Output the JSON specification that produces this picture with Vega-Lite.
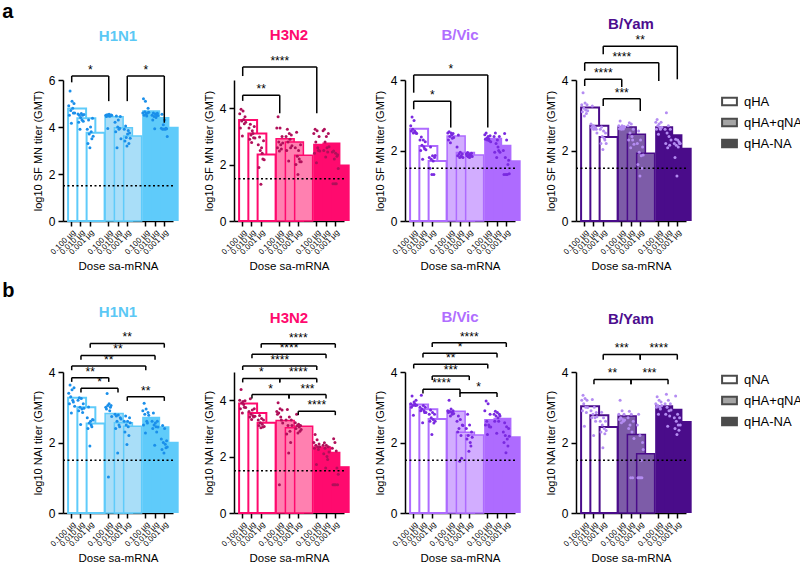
{
"padding":{"left":2,"top":2,"right":5,"bottom":0},
"config":{"font":"Liberation Sans","view":{"stroke":null},
"axis":{"grid":false,"domainColor":"black","domainWidth":1.5,"tickColor":"black","tickWidth":1.5,"labelColor":"black","titleColor":"black","labelFont":"Liberation Sans","titleFont":"Liberation Sans","titleFontWeight":"normal"},
"axisY":{"labelFontSize":12,"titleFontSize":11,"titlePadding":5,"tickSize":5,"labelPadding":3},
"axisX":{"labelFontSize":8,"labelAngle":-45,"titleFontSize":11.5,"titlePadding":5,"tickSize":5,"labelPadding":2},
"title":{"font":"Liberation Sans","fontSize":15,"fontWeight":"bold","anchor":"middle","frame":"group","offset":6}},
"datasets":{
"bars":[
{"p":"a1","g":"g1","bar":"g1d1","m":4.79,"v":[4.9,4.5,5.53,4.7,4.16,5.1,4.8,4.6,5.0,4.6]},
{"p":"a1","g":"g1","bar":"g1d2","m":4.37,"v":[4.55,4.2,4.5,3.9,4.4,4.57,4.3,4.5,4.25,4.53]},
{"p":"a1","g":"g1","bar":"g1d3","m":3.76,"v":[3.9,3.3,4.3,3.7,3.12,4.0,3.8,3.5,4.37,3.61]},
{"p":"a1","g":"g2","bar":"g2d1","m":4.44,"v":[4.5,4.45,4.52,3.94,4.48,4.54,4.46,4.5,4.51,4.5]},
{"p":"a1","g":"g2","bar":"g2d2","m":3.97,"v":[4.2,3.8,4.47,3.12,4.0,4.3,3.9,3.95,4.45,3.5]},
{"p":"a1","g":"g2","bar":"g2d3","m":3.62,"v":[3.9,3.4,4.04,3.55,3.19,3.7,3.85,3.3,3.75,3.52]},
{"p":"a1","g":"g3","bar":"g3d1","m":4.71,"v":[4.6,5.2,4.5,4.65,5.1,4.55,4.47,4.6,4.8,4.63]},
{"p":"a1","g":"g3","bar":"g3d2","m":4.43,"v":[4.5,4.3,4.6,4.45,3.93,4.55,4.4,4.5,4.58,4.49]},
{"p":"a1","g":"g3","bar":"g3d3","m":4.01,"v":[3.95,4.54,3.9,4.1,3.92,4.3,3.9,3.95,3.93,3.6]},
{"p":"a2","g":"g1","bar":"g1d1","m":3.58,"v":[3.8,3.3,3.96,3.55,3.01,3.9,3.6,3.45,3.7,3.5]},
{"p":"a2","g":"g1","bar":"g1d2","m":3.1,"v":[3.3,2.9,3.43,3.05,2.78,3.2,3.1,2.95,3.35,2.94]},
{"p":"a2","g":"g1","bar":"g1d3","m":2.36,"v":[2.7,1.9,2.98,2.5,1.3,2.6,2.4,2.2,2.85,2.17]},
{"p":"a2","g":"g2","bar":"g2d1","m":2.92,"v":[3.3,2.6,3.7,2.8,2.48,3.3,2.7,2.55,3.0,2.77]},
{"p":"a2","g":"g2","bar":"g2d2","m":2.8,"v":[3.0,2.5,3.25,2.8,2.13,3.1,2.9,2.6,3.05,2.67]},
{"p":"a2","g":"g2","bar":"g2d3","m":2.33,"v":[2.6,2.0,3.15,2.3,1.65,2.5,2.2,2.1,2.7,2.1]},
{"p":"a2","g":"g3","bar":"g3d1","m":2.74,"v":[3.1,2.4,3.25,2.8,2.07,3.2,2.6,2.5,3.0,2.48]},
{"p":"a2","g":"g3","bar":"g3d2","m":2.78,"v":[3.2,2.5,3.25,2.8,2.27,3.0,2.6,2.45,3.1,2.63]},
{"p":"a2","g":"g3","bar":"g3d3","m":2.0,"v":[2.45,1.32,2.48,2.2,1.32,2.4,1.32,2.3,2.35,1.86]},
{"p":"a3","g":"g1","bar":"g1d1","m":2.62,"v":[2.7,2.55,2.95,2.6,2.5,2.85,2.55,2.52,2.5,2.48]},
{"p":"a3","g":"g1","bar":"g1d2","m":2.13,"v":[2.3,2.0,2.38,2.15,1.75,2.3,2.1,2.05,2.25,2.02]},
{"p":"a3","g":"g1","bar":"g1d3","m":1.7,"v":[1.8,1.5,2.1,1.75,1.32,1.85,1.7,1.32,1.8,1.86]},
{"p":"a3","g":"g2","bar":"g2d1","m":2.41,"v":[2.5,2.3,2.53,2.4,2.22,2.5,2.45,2.35,2.48,2.37]},
{"p":"a3","g":"g2","bar":"g2d2","m":1.94,"v":[2.1,1.85,2.44,1.9,1.8,1.95,1.85,1.82,1.9,1.8]},
{"p":"a3","g":"g2","bar":"g2d3","m":1.87,"v":[1.9,1.85,1.94,1.82,1.88,1.8,1.9,1.86,1.92,1.83]},
{"p":"a3","g":"g3","bar":"g3d1","m":2.36,"v":[2.45,2.32,2.5,2.35,2.3,2.4,2.33,2.28,2.42,2.25]},
{"p":"a3","g":"g3","bar":"g3d2","m":2.16,"v":[2.4,1.95,2.5,2.2,1.8,2.3,2.1,2.0,2.4,1.95]},
{"p":"a3","g":"g3","bar":"g3d3","m":1.72,"v":[2.0,1.32,2.48,1.8,1.32,2.3,1.32,1.6,1.72,1.34]},
{"p":"a4","g":"g1","bar":"g1d1","m":3.22,"v":[3.3,3.1,3.64,3.2,2.98,3.35,3.15,3.05,3.3,3.13]},
{"p":"a4","g":"g1","bar":"g1d2","m":2.7,"v":[2.75,2.65,3.26,2.7,2.6,2.68,2.62,2.64,2.6,2.5]},
{"p":"a4","g":"g1","bar":"g1d3","m":2.38,"v":[2.6,2.2,2.67,2.4,2.03,2.55,2.35,2.3,2.5,2.2]},
{"p":"a4","g":"g2","bar":"g2d1","m":2.67,"v":[2.7,2.62,2.84,2.65,2.6,2.7,2.63,2.61,2.68,2.67]},
{"p":"a4","g":"g2","bar":"g2d2","m":2.46,"v":[2.7,2.3,2.79,2.5,2.08,2.75,2.4,2.3,2.6,2.18]},
{"p":"a4","g":"g2","bar":"g2d3","m":1.92,"v":[2.2,1.6,2.55,1.95,1.28,2.3,1.85,1.5,2.1,1.87]},
{"p":"a4","g":"g3","bar":"g3d1","m":2.69,"v":[2.8,2.6,2.88,2.7,2.46,2.75,2.65,2.6,2.8,2.66]},
{"p":"a4","g":"g3","bar":"g3d2","m":2.46,"v":[2.6,2.2,3.07,2.5,2.08,2.7,2.4,2.15,2.6,2.3]},
{"p":"a4","g":"g3","bar":"g3d3","m":2.08,"v":[2.2,1.8,2.32,2.15,1.28,2.3,2.1,2.25,2.2,2.2]},
{"p":"b1","g":"g1","bar":"g1d1","m":3.27,"v":[3.4,3.1,3.63,3.3,2.84,3.5,3.2,3.15,3.55,3.03]},
{"p":"b1","g":"g1","bar":"g1d2","m":3.0,"v":[3.2,2.9,3.27,3.0,2.51,3.25,2.95,2.85,3.1,2.97]},
{"p":"b1","g":"g1","bar":"g1d3","m":2.54,"v":[2.7,2.4,3.01,2.55,1.9,2.6,2.5,2.45,2.65,2.64]},
{"p":"b1","g":"g2","bar":"g2d1","m":2.82,"v":[3.0,2.95,3.39,3.05,1.02,3.1,2.9,3.0,3.05,2.74]},
{"p":"b1","g":"g2","bar":"g2d2","m":2.56,"v":[2.8,2.4,2.75,2.6,1.7,2.78,2.5,2.45,2.7,2.67]},
{"p":"b1","g":"g2","bar":"g2d3","m":2.46,"v":[2.6,2.3,2.75,2.5,1.94,2.6,2.45,2.2,2.7,2.56]},
{"p":"b1","g":"g3","bar":"g3d1","m":2.73,"v":[2.9,2.5,3.11,2.8,2.27,2.95,2.6,2.55,2.85,2.77]},
{"p":"b1","g":"g3","bar":"g3d2","m":2.46,"v":[2.6,2.4,2.84,2.5,1.92,2.55,2.45,2.3,2.6,2.44]},
{"p":"b1","g":"g3","bar":"g3d3","m":2.02,"v":[2.1,1.8,2.48,2.0,1.7,2.4,1.95,1.85,2.05,1.87]},
{"p":"b2","g":"g1","bar":"g1d1","m":3.88,"v":[4.0,3.7,4.38,3.9,3.55,3.95,3.85,3.75,3.98,3.74]},
{"p":"b2","g":"g1","bar":"g1d2","m":3.55,"v":[3.6,3.4,4.05,3.5,3.32,3.65,3.45,3.4,3.7,3.43]},
{"p":"b2","g":"g1","bar":"g1d3","m":3.2,"v":[3.3,3.1,3.46,3.2,3.02,3.35,3.15,3.05,3.3,3.07]},
{"p":"b2","g":"g2","bar":"g2d1","m":3.28,"v":[3.6,3.5,3.91,3.55,1.0,3.7,3.4,3.3,3.65,3.19]},
{"p":"b2","g":"g2","bar":"g2d2","m":3.02,"v":[3.3,2.8,3.67,3.1,2.13,3.4,2.9,2.5,3.3,3.1]},
{"p":"b2","g":"g2","bar":"g2d3","m":3.08,"v":[3.2,3.0,3.5,3.1,2.84,3.15,3.05,2.9,3.1,2.96]},
{"p":"b2","g":"g3","bar":"g3d1","m":2.37,"v":[2.5,2.3,2.78,2.4,1.72,2.6,2.35,2.25,2.45,2.35]},
{"p":"b2","g":"g3","bar":"g3d2","m":2.17,"v":[2.4,2.1,2.49,2.3,1.6,2.4,2.0,1.9,2.35,2.16]},
{"p":"b2","g":"g3","bar":"g3d3","m":1.66,"v":[2.3,1.0,2.63,1.0,2.5,1.0,2.2,1.6,1.0,1.37]},
{"p":"b3","g":"g1","bar":"g1d1","m":3.08,"v":[3.1,3.0,3.32,3.05,2.77,3.15,3.1,3.05,3.2,3.06]},
{"p":"b3","g":"g1","bar":"g1d2","m":2.94,"v":[3.0,2.9,3.34,2.95,2.56,3.05,2.9,2.85,3.0,2.85]},
{"p":"b3","g":"g1","bar":"g1d3","m":2.67,"v":[2.8,2.6,2.92,2.7,2.23,2.85,2.65,2.55,2.8,2.6]},
{"p":"b3","g":"g2","bar":"g2d1","m":2.89,"v":[2.9,2.85,3.2,2.88,2.75,2.95,2.85,2.8,2.9,2.82]},
{"p":"b3","g":"g2","bar":"g2d2","m":2.29,"v":[2.6,2.3,2.75,2.4,1.47,2.65,2.2,1.55,2.5,2.48]},
{"p":"b3","g":"g2","bar":"g2d3","m":2.21,"v":[2.4,2.1,2.8,2.2,1.75,2.5,2.0,1.9,2.3,2.15]},
{"p":"b3","g":"g3","bar":"g3d1","m":2.67,"v":[2.9,2.5,3.18,2.6,2.23,3.1,2.5,2.45,2.8,2.44]},
{"p":"b3","g":"g3","bar":"g3d2","m":2.7,"v":[2.8,2.6,2.89,2.75,2.26,2.85,2.7,2.6,2.8,2.75]},
{"p":"b3","g":"g3","bar":"g3d3","m":2.18,"v":[2.3,2.0,2.56,2.2,1.71,2.45,2.1,1.9,2.4,2.18]},
{"p":"b4","g":"g1","bar":"g1d1","m":3.03,"v":[3.2,2.9,3.34,3.1,2.46,3.25,3.0,2.85,3.2,2.99]},
{"p":"b4","g":"g1","bar":"g1d2","m":2.77,"v":[2.9,2.7,3.22,2.8,2.2,3.0,2.7,2.6,2.85,2.73]},
{"p":"b4","g":"g1","bar":"g1d3","m":2.44,"v":[2.6,2.3,2.86,2.5,1.85,2.7,2.4,2.25,2.6,2.34]},
{"p":"b4","g":"g2","bar":"g2d1","m":2.75,"v":[2.8,2.65,3.2,2.7,2.56,2.9,2.65,2.6,2.8,2.64]},
{"p":"b4","g":"g2","bar":"g2d2","m":2.23,"v":[2.7,2.4,2.89,2.5,1.0,2.8,2.3,1.0,2.6,2.11]},
{"p":"b4","g":"g2","bar":"g2d3","m":1.68,"v":[2.5,1.0,2.8,1.0,2.2,1.0,1.5,1.0,2.0,1.8]},
{"p":"b4","g":"g3","bar":"g3d1","m":3.06,"v":[3.1,3.0,3.3,3.05,2.8,3.2,3.0,2.95,3.15,3.05]},
{"p":"b4","g":"g3","bar":"g3d2","m":2.96,"v":[3.1,2.8,3.37,3.0,2.46,3.2,2.9,2.75,3.1,2.92]},
{"p":"b4","g":"g3","bar":"g3d3","m":2.61,"v":[2.7,2.4,3.32,2.6,2.23,2.8,2.5,2.35,2.7,2.5]}
],
"br":[
{"p":"a1","bar":"g1d1","b":"g2d1","mid":"g1d3","y":6.17,"ya":5.9,"yb":5.1,"s":"*"},
{"p":"a1","bar":"g2d3","b":"g3d3","mid":"g3d1","y":6.17,"ya":5.1,"yb":4.18,"s":"*"},
{"p":"a2","bar":"g1d1","b":"g2d1","mid":"g1d3","y":4.46,"ya":4.26,"yb":3.82,"s":"**"},
{"p":"a2","bar":"g1d1","b":"g3d1","mid":"g2d1","y":5.46,"ya":5.14,"yb":3.82,"s":"****"},
{"p":"a3","bar":"g1d1","b":"g2d1","mid":"g1d3","y":3.4,"ya":3.17,"yb":2.65,"s":"*"},
{"p":"a3","bar":"g1d1","b":"g3d1","mid":"g2d1","y":4.14,"ya":3.64,"yb":2.65,"s":"*"},
{"p":"a4","bar":"g1d1","b":"g2d1","mid":"g1d3","y":4.02,"ya":3.83,"yb":3.8,"s":"****"},
{"p":"a4","bar":"g1d3","b":"g2d3","mid":"g2d1","y":3.47,"ya":3.26,"yb":3.12,"s":"***"},
{"p":"a4","bar":"g1d1","b":"g3d1","mid":"g2d1","y":4.49,"ya":4.26,"yb":3.97,"s":"****"},
{"p":"a4","bar":"g1d3","b":"g3d3","mid":"g2d3","y":4.96,"ya":4.73,"yb":4.02,"s":"**"},
{"p":"b1","bar":"g1d3","b":"g3d3","mid":"g2d3","y":4.81,"ya":4.69,"yb":4.69,"s":"**"},
{"p":"b1","bar":"g1d2","b":"g3d2","mid":"g2d2","y":4.47,"ya":4.35,"yb":4.35,"s":"**"},
{"p":"b1","bar":"g1d1","b":"g3d1","mid":"g2d1","y":4.17,"ya":4.05,"yb":4.05,"s":"**"},
{"p":"b1","bar":"g1d1","b":"g2d1","mid":"g1d3","y":3.84,"ya":3.72,"yb":3.72,"s":"**"},
{"p":"b1","bar":"g1d2","b":"g2d2","mid":"s1","y":3.54,"ya":3.42,"yb":3.42,"s":"*"},
{"p":"b1","bar":"g2d3","b":"g3d3","mid":"g3d1","y":3.3,"ya":3.18,"yb":3.18,"s":"**"},
{"p":"b2","bar":"g1d3","b":"g3d3","mid":"g2d3","y":6.0,"ya":5.86,"yb":5.86,"s":"****"},
{"p":"b2","bar":"g1d2","b":"g3d2","mid":"g2d2","y":5.63,"ya":5.49,"yb":5.49,"s":"****"},
{"p":"b2","bar":"g1d1","b":"g3d1","mid":"g2d1","y":5.21,"ya":5.07,"yb":5.07,"s":"****"},
{"p":"b2","bar":"g1d1","b":"g2d1","mid":"g1d3","y":4.77,"ya":4.63,"yb":4.63,"s":"*"},
{"p":"b2","bar":"g2d1","b":"g3d1","mid":"g2d3","y":4.77,"ya":4.63,"yb":4.63,"s":"****"},
{"p":"b2","bar":"g1d2","b":"g2d2","mid":"s1","y":4.2,"ya":4.06,"yb":4.06,"s":"*"},
{"p":"b2","bar":"g2d2","b":"g3d2","mid":"s2","y":4.2,"ya":4.06,"yb":4.06,"s":"***"},
{"p":"b2","bar":"g2d3","b":"g3d3","mid":"g3d1","y":3.61,"ya":3.47,"yb":3.47,"s":"****"},
{"p":"b3","bar":"g1d3","b":"g3d3","mid":"g2d3","y":4.83,"ya":4.71,"yb":4.71,"s":"****"},
{"p":"b3","bar":"g1d2","b":"g3d2","mid":"g2d2","y":4.53,"ya":4.41,"yb":4.41,"s":"*"},
{"p":"b3","bar":"g1d1","b":"g3d1","mid":"g2d1","y":4.22,"ya":4.1,"yb":4.1,"s":"**"},
{"p":"b3","bar":"g1d3","b":"g2d3","mid":"g2d1","y":3.89,"ya":3.77,"yb":3.77,"s":"***"},
{"p":"b3","bar":"g1d2","b":"g2d2","mid":"s1","y":3.51,"ya":3.39,"yb":3.39,"s":"****"},
{"p":"b3","bar":"g2d2","b":"g3d2","mid":"s2","y":3.41,"ya":3.29,"yb":3.29,"s":"*"},
{"p":"b4","bar":"g1d3","b":"g2d3","mid":"g2d1","y":4.5,"ya":4.35,"yb":4.35,"s":"***"},
{"p":"b4","bar":"g2d3","b":"g3d3","mid":"g3d1","y":4.5,"ya":4.35,"yb":4.35,"s":"****"},
{"p":"b4","bar":"g1d2","b":"g2d2","mid":"s1","y":3.79,"ya":3.65,"yb":3.65,"s":"**"},
{"p":"b4","bar":"g2d2","b":"g3d2","mid":"s2","y":3.79,"ya":3.65,"yb":3.65,"s":"***"}
]},
"resolve":{"scale":{"fill":"independent"},"legend":{"fill":"independent"}},
"spacing":8,
"vconcat":[
{"title":{"text":"a","anchor":"start","frame":"bounds","fontSize":20,"fontWeight":"bold","color":"black","dx":-30,"offset":-5},
"bounds":"flush","spacing":61,
"hconcat":[
{"width":110,"height":141,"title":{"text":"H1N1","color":"#5BC8F5","offset":20},
"layer":[
{"data":{"name":"bars"},"transform":[{"filter":"datum.p=='a1' && datum.g=='g1'"}],"mark":{"type":"bar","fill":"white","stroke":"#5FCBFA","strokeWidth":2},
"encoding":{"x":{"field":"bar","type":"nominal","scale":{"type":"band","domain":["g1d1","g1d2","g1d3","s1","g2d1","g2d2","g2d3","s2","g3d1","g3d2","g3d3"],"paddingInner":0.22,"paddingOuter":0.55},"axis":{"values":["g1d1","g1d2","g1d3","g2d1","g2d2","g2d3","g3d1","g3d2","g3d3"],"labelExpr":"slice(datum.value,2)=='d1'?'0.100 µg':slice(datum.value,2)=='d2'?'0.010 µg':'0.001 µg'","title":"Dose sa-mRNA"}},
"y":{"field":"m","type":"quantitative","scale":{"domain":[0,6],"nice":false},"axis":{"values":[0,2,4,6],"title":"log10 SF MN titer (GMT)"}}}},
{"data":{"name":"bars"},"transform":[{"filter":"datum.p=='a1' && datum.g=='g2'"}],"mark":{"type":"bar","fill":"#A9DEF8","stroke":"#5FCBFA","strokeWidth":1.5},
"encoding":{"x":{"field":"bar","type":"nominal"},"y":{"field":"m","type":"quantitative"}}},
{"data":{"name":"bars"},"transform":[{"filter":"datum.p=='a1' && datum.g=='g3'"}],"mark":{"type":"bar","fill":"#5FCBFA"},
"encoding":{"x":{"field":"bar","type":"nominal"},"y":{"field":"m","type":"quantitative"}}},
{"data":{"name":"bars"},"transform":[{"filter":"datum.p=='a1'"},{"flatten":["v"]},{"window":[{"op":"row_number","as":"k"}],"groupby":["bar"]}],"mark":{"type":"circle","fill":"#1A8FEA","size":9,"opacity":1},
"encoding":{"x":{"field":"bar","type":"nominal"},"xOffset":{"field":"k","type":"ordinal","scale":{"paddingOuter":1}},"y":{"field":"v","type":"quantitative"}}},
{"data":{"values":[{"lod":1.5}]},"mark":{"type":"rule","strokeDash":[2,2.5],"stroke":"black","strokeWidth":1.5},"encoding":{"y":{"field":"lod","type":"quantitative"}}},
{"data":{"name":"br"},"transform":[{"filter":"datum.p=='a1'"}],"layer":[
{"mark":{"type":"rule","stroke":"black","strokeWidth":1.5},"encoding":{"x":{"field":"bar","type":"nominal"},"x2":{"field":"b"},"y":{"field":"y","type":"quantitative"}}},
{"mark":{"type":"rule","stroke":"black","strokeWidth":1.5},"encoding":{"x":{"field":"bar","type":"nominal"},"y":{"field":"y","type":"quantitative"},"y2":{"field":"ya"}}},
{"mark":{"type":"rule","stroke":"black","strokeWidth":1.5},"encoding":{"x":{"field":"b","type":"nominal"},"y":{"field":"y","type":"quantitative"},"y2":{"field":"yb"}}},
{"mark":{"type":"text","baseline":"alphabetic","dy":-2,"fontSize":12},"encoding":{"x":{"field":"mid","type":"nominal"},"y":{"field":"y","type":"quantitative"},"text":{"field":"s"}}}]}
]},
{"width":110,"height":141,"title":{"text":"H3N2","color":"#FF0A6E","offset":12},
"layer":[
{"data":{"name":"bars"},"transform":[{"filter":"datum.p=='a2' && datum.g=='g1'"}],"mark":{"type":"bar","fill":"white","stroke":"#FF0A6E","strokeWidth":2},
"encoding":{"x":{"field":"bar","type":"nominal","scale":{"type":"band","domain":["g1d1","g1d2","g1d3","s1","g2d1","g2d2","g2d3","s2","g3d1","g3d2","g3d3"],"paddingInner":0.22,"paddingOuter":0.55},"axis":{"values":["g1d1","g1d2","g1d3","g2d1","g2d2","g2d3","g3d1","g3d2","g3d3"],"labelExpr":"slice(datum.value,2)=='d1'?'0.100 µg':slice(datum.value,2)=='d2'?'0.010 µg':'0.001 µg'","title":"Dose sa-mRNA"}},
"y":{"field":"m","type":"quantitative","scale":{"domain":[0,5],"nice":false},"axis":{"values":[0,1,2,3,4,5],"title":"log10 SF MN titer (GMT)"}}}},
{"data":{"name":"bars"},"transform":[{"filter":"datum.p=='a2' && datum.g=='g2'"}],"mark":{"type":"bar","fill":"#FF80B0","stroke":"#FF0A6E","strokeWidth":1.5},
"encoding":{"x":{"field":"bar","type":"nominal"},"y":{"field":"m","type":"quantitative"}}},
{"data":{"name":"bars"},"transform":[{"filter":"datum.p=='a2' && datum.g=='g3'"}],"mark":{"type":"bar","fill":"#FF0A6E"},
"encoding":{"x":{"field":"bar","type":"nominal"},"y":{"field":"m","type":"quantitative"}}},
{"data":{"name":"bars"},"transform":[{"filter":"datum.p=='a2'"},{"flatten":["v"]},{"window":[{"op":"row_number","as":"k"}],"groupby":["bar"]}],"mark":{"type":"circle","fill":"#B0105A","size":9,"opacity":1},
"encoding":{"x":{"field":"bar","type":"nominal"},"xOffset":{"field":"k","type":"ordinal","scale":{"paddingOuter":1}},"y":{"field":"v","type":"quantitative"}}},
{"data":{"values":[{"lod":1.5}]},"mark":{"type":"rule","strokeDash":[2,2.5],"stroke":"black","strokeWidth":1.5},"encoding":{"y":{"field":"lod","type":"quantitative"}}},
{"data":{"name":"br"},"transform":[{"filter":"datum.p=='a2'"}],"layer":[
{"mark":{"type":"rule","stroke":"black","strokeWidth":1.5},"encoding":{"x":{"field":"bar","type":"nominal"},"x2":{"field":"b"},"y":{"field":"y","type":"quantitative"}}},
{"mark":{"type":"rule","stroke":"black","strokeWidth":1.5},"encoding":{"x":{"field":"bar","type":"nominal"},"y":{"field":"y","type":"quantitative"},"y2":{"field":"ya"}}},
{"mark":{"type":"rule","stroke":"black","strokeWidth":1.5},"encoding":{"x":{"field":"b","type":"nominal"},"y":{"field":"y","type":"quantitative"},"y2":{"field":"yb"}}},
{"mark":{"type":"text","baseline":"alphabetic","dy":-2,"fontSize":12},"encoding":{"x":{"field":"mid","type":"nominal"},"y":{"field":"y","type":"quantitative"},"text":{"field":"s"}}}]}
]},
{"width":110,"height":141,"title":{"text":"B/Vic","color":"#B06EFF","offset":20},
"layer":[
{"data":{"name":"bars"},"transform":[{"filter":"datum.p=='a3' && datum.g=='g1'"}],"mark":{"type":"bar","fill":"white","stroke":"#AE6BFF","strokeWidth":2},
"encoding":{"x":{"field":"bar","type":"nominal","scale":{"type":"band","domain":["g1d1","g1d2","g1d3","s1","g2d1","g2d2","g2d3","s2","g3d1","g3d2","g3d3"],"paddingInner":0.22,"paddingOuter":0.55},"axis":{"values":["g1d1","g1d2","g1d3","g2d1","g2d2","g2d3","g3d1","g3d2","g3d3"],"labelExpr":"slice(datum.value,2)=='d1'?'0.100 µg':slice(datum.value,2)=='d2'?'0.010 µg':'0.001 µg'","title":"Dose sa-mRNA"}},
"y":{"field":"m","type":"quantitative","scale":{"domain":[0,4],"nice":false},"axis":{"values":[0,1,2,3,4],"title":"log10 SF MN titer (GMT)"}}}},
{"data":{"name":"bars"},"transform":[{"filter":"datum.p=='a3' && datum.g=='g2'"}],"mark":{"type":"bar","fill":"#D2ADFF","stroke":"#AE6BFF","strokeWidth":1.5},
"encoding":{"x":{"field":"bar","type":"nominal"},"y":{"field":"m","type":"quantitative"}}},
{"data":{"name":"bars"},"transform":[{"filter":"datum.p=='a3' && datum.g=='g3'"}],"mark":{"type":"bar","fill":"#AE6BFF"},
"encoding":{"x":{"field":"bar","type":"nominal"},"y":{"field":"m","type":"quantitative"}}},
{"data":{"name":"bars"},"transform":[{"filter":"datum.p=='a3'"},{"flatten":["v"]},{"window":[{"op":"row_number","as":"k"}],"groupby":["bar"]}],"mark":{"type":"circle","fill":"#7A2AE0","size":9,"opacity":1},
"encoding":{"x":{"field":"bar","type":"nominal"},"xOffset":{"field":"k","type":"ordinal","scale":{"paddingOuter":1}},"y":{"field":"v","type":"quantitative"}}},
{"data":{"values":[{"lod":1.5}]},"mark":{"type":"rule","strokeDash":[2,2.5],"stroke":"black","strokeWidth":1.5},"encoding":{"y":{"field":"lod","type":"quantitative"}}},
{"data":{"name":"br"},"transform":[{"filter":"datum.p=='a3'"}],"layer":[
{"mark":{"type":"rule","stroke":"black","strokeWidth":1.5},"encoding":{"x":{"field":"bar","type":"nominal"},"x2":{"field":"b"},"y":{"field":"y","type":"quantitative"}}},
{"mark":{"type":"rule","stroke":"black","strokeWidth":1.5},"encoding":{"x":{"field":"bar","type":"nominal"},"y":{"field":"y","type":"quantitative"},"y2":{"field":"ya"}}},
{"mark":{"type":"rule","stroke":"black","strokeWidth":1.5},"encoding":{"x":{"field":"b","type":"nominal"},"y":{"field":"y","type":"quantitative"},"y2":{"field":"yb"}}},
{"mark":{"type":"text","baseline":"alphabetic","dy":-2,"fontSize":12},"encoding":{"x":{"field":"mid","type":"nominal"},"y":{"field":"y","type":"quantitative"},"text":{"field":"s"}}}]}
]},
{"width":110,"height":141,"title":{"text":"B/Yam","color":"#4D0E8F","offset":2},
"layer":[
{"data":{"name":"bars"},"transform":[{"filter":"datum.p=='a4' && datum.g=='g1'"}],"mark":{"type":"bar","fill":"white","stroke":"#4A0C8A","strokeWidth":2},
"encoding":{"x":{"field":"bar","type":"nominal","scale":{"type":"band","domain":["g1d1","g1d2","g1d3","s1","g2d1","g2d2","g2d3","s2","g3d1","g3d2","g3d3"],"paddingInner":0.22,"paddingOuter":0.55},"axis":{"values":["g1d1","g1d2","g1d3","g2d1","g2d2","g2d3","g3d1","g3d2","g3d3"],"labelExpr":"slice(datum.value,2)=='d1'?'0.100 µg':slice(datum.value,2)=='d2'?'0.010 µg':'0.001 µg'","title":"Dose sa-mRNA"}},
"y":{"field":"m","type":"quantitative","scale":{"domain":[0,4],"nice":false},"axis":{"values":[0,1,2,3,4],"title":"log10 SF MN titer (GMT)"}}}},
{"data":{"name":"bars"},"transform":[{"filter":"datum.p=='a4' && datum.g=='g2'"}],"mark":{"type":"bar","fill":"#7D5CA8","stroke":"#4A0C8A","strokeWidth":1.5},
"encoding":{"x":{"field":"bar","type":"nominal"},"y":{"field":"m","type":"quantitative"}}},
{"data":{"name":"bars"},"transform":[{"filter":"datum.p=='a4' && datum.g=='g3'"}],"mark":{"type":"bar","fill":"#4A0C8A"},
"encoding":{"x":{"field":"bar","type":"nominal"},"y":{"field":"m","type":"quantitative"}}},
{"data":{"name":"bars"},"transform":[{"filter":"datum.p=='a4'"},{"flatten":["v"]},{"window":[{"op":"row_number","as":"k"}],"groupby":["bar"]}],"mark":{"type":"circle","fill":"#B48CF2","size":9,"opacity":1},
"encoding":{"x":{"field":"bar","type":"nominal"},"xOffset":{"field":"k","type":"ordinal","scale":{"paddingOuter":1}},"y":{"field":"v","type":"quantitative"}}},
{"data":{"values":[{"lod":1.5}]},"mark":{"type":"rule","strokeDash":[2,2.5],"stroke":"black","strokeWidth":1.5},"encoding":{"y":{"field":"lod","type":"quantitative"}}},
{"data":{"name":"br"},"transform":[{"filter":"datum.p=='a4'"}],"layer":[
{"mark":{"type":"rule","stroke":"black","strokeWidth":1.5},"encoding":{"x":{"field":"bar","type":"nominal"},"x2":{"field":"b"},"y":{"field":"y","type":"quantitative"}}},
{"mark":{"type":"rule","stroke":"black","strokeWidth":1.5},"encoding":{"x":{"field":"bar","type":"nominal"},"y":{"field":"y","type":"quantitative"},"y2":{"field":"ya"}}},
{"mark":{"type":"rule","stroke":"black","strokeWidth":1.5},"encoding":{"x":{"field":"b","type":"nominal"},"y":{"field":"y","type":"quantitative"},"y2":{"field":"yb"}}},
{"mark":{"type":"text","baseline":"alphabetic","dy":-2,"fontSize":12},"encoding":{"x":{"field":"mid","type":"nominal"},"y":{"field":"y","type":"quantitative"},"text":{"field":"s"}}}]},
{"data":{"values":[{"grp":"qHA"},{"grp":"qHA+qNA"},{"grp":"qHA-NA"}]},"mark":{"type":"point","clip":true,"filled":true,"shape":"M-1,-0.5H1V0.5H-1Z","stroke":"black","strokeWidth":2},
"encoding":{"y":{"datum":-5},"fill":{"field":"grp","type":"nominal","scale":{"domain":["qHA","qHA+qNA","qHA-NA"],"range":["white","#808080","black"]},
"legend":{"title":null,"orient":"none","legendX":658,"legendY":13,"symbolType":"M-1,-0.5H1V0.5H-1Z","symbolSize":220,"symbolStrokeColor":"black","symbolStrokeWidth":2,"labelFontSize":13,"labelColor":"black","labelOffset":6,"rowPadding":4,"padding":0}}}}
]}
]},
{"title":{"text":"b","anchor":"start","frame":"bounds","fontSize":20,"fontWeight":"bold","color":"black","dx":-30,"offset":4},
"bounds":"flush","spacing":61,
"hconcat":[
{"width":110,"height":141,"title":{"text":"H1N1","color":"#5BC8F5","offset":11},
"layer":[
{"data":{"name":"bars"},"transform":[{"filter":"datum.p=='b1' && datum.g=='g1'"}],"mark":{"type":"bar","fill":"white","stroke":"#5FCBFA","strokeWidth":2},
"encoding":{"x":{"field":"bar","type":"nominal","scale":{"type":"band","domain":["g1d1","g1d2","g1d3","s1","g2d1","g2d2","g2d3","s2","g3d1","g3d2","g3d3"],"paddingInner":0.22,"paddingOuter":0.55},"axis":{"values":["g1d1","g1d2","g1d3","g2d1","g2d2","g2d3","g3d1","g3d2","g3d3"],"labelExpr":"slice(datum.value,2)=='d1'?'0.100 µg':slice(datum.value,2)=='d2'?'0.010 µg':'0.001 µg'","title":"Dose sa-mRNA"}},
"y":{"field":"m","type":"quantitative","scale":{"domain":[0,4],"nice":false},"axis":{"values":[0,1,2,3,4],"title":"log10 NAI titer (GMT)"}}}},
{"data":{"name":"bars"},"transform":[{"filter":"datum.p=='b1' && datum.g=='g2'"}],"mark":{"type":"bar","fill":"#A9DEF8","stroke":"#5FCBFA","strokeWidth":1.5},
"encoding":{"x":{"field":"bar","type":"nominal"},"y":{"field":"m","type":"quantitative"}}},
{"data":{"name":"bars"},"transform":[{"filter":"datum.p=='b1' && datum.g=='g3'"}],"mark":{"type":"bar","fill":"#5FCBFA"},
"encoding":{"x":{"field":"bar","type":"nominal"},"y":{"field":"m","type":"quantitative"}}},
{"data":{"name":"bars"},"transform":[{"filter":"datum.p=='b1'"},{"flatten":["v"]},{"window":[{"op":"row_number","as":"k"}],"groupby":["bar"]}],"mark":{"type":"circle","fill":"#1A8FEA","size":9,"opacity":1},
"encoding":{"x":{"field":"bar","type":"nominal"},"xOffset":{"field":"k","type":"ordinal","scale":{"paddingOuter":1}},"y":{"field":"v","type":"quantitative"}}},
{"data":{"values":[{"lod":1.5}]},"mark":{"type":"rule","strokeDash":[2,2.5],"stroke":"black","strokeWidth":1.5},"encoding":{"y":{"field":"lod","type":"quantitative"}}},
{"data":{"name":"br"},"transform":[{"filter":"datum.p=='b1'"}],"layer":[
{"mark":{"type":"rule","stroke":"black","strokeWidth":1.5},"encoding":{"x":{"field":"bar","type":"nominal"},"x2":{"field":"b"},"y":{"field":"y","type":"quantitative"}}},
{"mark":{"type":"rule","stroke":"black","strokeWidth":1.5},"encoding":{"x":{"field":"bar","type":"nominal"},"y":{"field":"y","type":"quantitative"},"y2":{"field":"ya"}}},
{"mark":{"type":"rule","stroke":"black","strokeWidth":1.5},"encoding":{"x":{"field":"b","type":"nominal"},"y":{"field":"y","type":"quantitative"},"y2":{"field":"yb"}}},
{"mark":{"type":"text","baseline":"alphabetic","dy":-2,"fontSize":12},"encoding":{"x":{"field":"mid","type":"nominal"},"y":{"field":"y","type":"quantitative"},"text":{"field":"s"}}}]}
]},
{"width":110,"height":141,"title":{"text":"H3N2","color":"#FF0A6E","offset":6},
"layer":[
{"data":{"name":"bars"},"transform":[{"filter":"datum.p=='b2' && datum.g=='g1'"}],"mark":{"type":"bar","fill":"white","stroke":"#FF0A6E","strokeWidth":2},
"encoding":{"x":{"field":"bar","type":"nominal","scale":{"type":"band","domain":["g1d1","g1d2","g1d3","s1","g2d1","g2d2","g2d3","s2","g3d1","g3d2","g3d3"],"paddingInner":0.22,"paddingOuter":0.55},"axis":{"values":["g1d1","g1d2","g1d3","g2d1","g2d2","g2d3","g3d1","g3d2","g3d3"],"labelExpr":"slice(datum.value,2)=='d1'?'0.100 µg':slice(datum.value,2)=='d2'?'0.010 µg':'0.001 µg'","title":"Dose sa-mRNA"}},
"y":{"field":"m","type":"quantitative","scale":{"domain":[0,5],"nice":false},"axis":{"values":[0,1,2,3,4,5],"title":"log10 NAI titer (GMT)"}}}},
{"data":{"name":"bars"},"transform":[{"filter":"datum.p=='b2' && datum.g=='g2'"}],"mark":{"type":"bar","fill":"#FF80B0","stroke":"#FF0A6E","strokeWidth":1.5},
"encoding":{"x":{"field":"bar","type":"nominal"},"y":{"field":"m","type":"quantitative"}}},
{"data":{"name":"bars"},"transform":[{"filter":"datum.p=='b2' && datum.g=='g3'"}],"mark":{"type":"bar","fill":"#FF0A6E"},
"encoding":{"x":{"field":"bar","type":"nominal"},"y":{"field":"m","type":"quantitative"}}},
{"data":{"name":"bars"},"transform":[{"filter":"datum.p=='b2'"},{"flatten":["v"]},{"window":[{"op":"row_number","as":"k"}],"groupby":["bar"]}],"mark":{"type":"circle","fill":"#B0105A","size":9,"opacity":1},
"encoding":{"x":{"field":"bar","type":"nominal"},"xOffset":{"field":"k","type":"ordinal","scale":{"paddingOuter":1}},"y":{"field":"v","type":"quantitative"}}},
{"data":{"values":[{"lod":1.5}]},"mark":{"type":"rule","strokeDash":[2,2.5],"stroke":"black","strokeWidth":1.5},"encoding":{"y":{"field":"lod","type":"quantitative"}}},
{"data":{"name":"br"},"transform":[{"filter":"datum.p=='b2'"}],"layer":[
{"mark":{"type":"rule","stroke":"black","strokeWidth":1.5},"encoding":{"x":{"field":"bar","type":"nominal"},"x2":{"field":"b"},"y":{"field":"y","type":"quantitative"}}},
{"mark":{"type":"rule","stroke":"black","strokeWidth":1.5},"encoding":{"x":{"field":"bar","type":"nominal"},"y":{"field":"y","type":"quantitative"},"y2":{"field":"ya"}}},
{"mark":{"type":"rule","stroke":"black","strokeWidth":1.5},"encoding":{"x":{"field":"b","type":"nominal"},"y":{"field":"y","type":"quantitative"},"y2":{"field":"yb"}}},
{"mark":{"type":"text","baseline":"alphabetic","dy":-2,"fontSize":12},"encoding":{"x":{"field":"mid","type":"nominal"},"y":{"field":"y","type":"quantitative"},"text":{"field":"s"}}}]}
]},
{"width":110,"height":141,"title":{"text":"B/Vic","color":"#B06EFF","offset":6},
"layer":[
{"data":{"name":"bars"},"transform":[{"filter":"datum.p=='b3' && datum.g=='g1'"}],"mark":{"type":"bar","fill":"white","stroke":"#AE6BFF","strokeWidth":2},
"encoding":{"x":{"field":"bar","type":"nominal","scale":{"type":"band","domain":["g1d1","g1d2","g1d3","s1","g2d1","g2d2","g2d3","s2","g3d1","g3d2","g3d3"],"paddingInner":0.22,"paddingOuter":0.55},"axis":{"values":["g1d1","g1d2","g1d3","g2d1","g2d2","g2d3","g3d1","g3d2","g3d3"],"labelExpr":"slice(datum.value,2)=='d1'?'0.100 µg':slice(datum.value,2)=='d2'?'0.010 µg':'0.001 µg'","title":"Dose sa-mRNA"}},
"y":{"field":"m","type":"quantitative","scale":{"domain":[0,4],"nice":false},"axis":{"values":[0,1,2,3,4],"title":"log10 NAI titer (GMT)"}}}},
{"data":{"name":"bars"},"transform":[{"filter":"datum.p=='b3' && datum.g=='g2'"}],"mark":{"type":"bar","fill":"#D2ADFF","stroke":"#AE6BFF","strokeWidth":1.5},
"encoding":{"x":{"field":"bar","type":"nominal"},"y":{"field":"m","type":"quantitative"}}},
{"data":{"name":"bars"},"transform":[{"filter":"datum.p=='b3' && datum.g=='g3'"}],"mark":{"type":"bar","fill":"#AE6BFF"},
"encoding":{"x":{"field":"bar","type":"nominal"},"y":{"field":"m","type":"quantitative"}}},
{"data":{"name":"bars"},"transform":[{"filter":"datum.p=='b3'"},{"flatten":["v"]},{"window":[{"op":"row_number","as":"k"}],"groupby":["bar"]}],"mark":{"type":"circle","fill":"#7A2AE0","size":9,"opacity":1},
"encoding":{"x":{"field":"bar","type":"nominal"},"xOffset":{"field":"k","type":"ordinal","scale":{"paddingOuter":1}},"y":{"field":"v","type":"quantitative"}}},
{"data":{"values":[{"lod":1.5}]},"mark":{"type":"rule","strokeDash":[2,2.5],"stroke":"black","strokeWidth":1.5},"encoding":{"y":{"field":"lod","type":"quantitative"}}},
{"data":{"name":"br"},"transform":[{"filter":"datum.p=='b3'"}],"layer":[
{"mark":{"type":"rule","stroke":"black","strokeWidth":1.5},"encoding":{"x":{"field":"bar","type":"nominal"},"x2":{"field":"b"},"y":{"field":"y","type":"quantitative"}}},
{"mark":{"type":"rule","stroke":"black","strokeWidth":1.5},"encoding":{"x":{"field":"bar","type":"nominal"},"y":{"field":"y","type":"quantitative"},"y2":{"field":"ya"}}},
{"mark":{"type":"rule","stroke":"black","strokeWidth":1.5},"encoding":{"x":{"field":"b","type":"nominal"},"y":{"field":"y","type":"quantitative"},"y2":{"field":"yb"}}},
{"mark":{"type":"text","baseline":"alphabetic","dy":-2,"fontSize":12},"encoding":{"x":{"field":"mid","type":"nominal"},"y":{"field":"y","type":"quantitative"},"text":{"field":"s"}}}]}
]},
{"width":110,"height":141,"title":{"text":"B/Yam","color":"#4D0E8F","offset":15},
"layer":[
{"data":{"name":"bars"},"transform":[{"filter":"datum.p=='b4' && datum.g=='g1'"}],"mark":{"type":"bar","fill":"white","stroke":"#4A0C8A","strokeWidth":2},
"encoding":{"x":{"field":"bar","type":"nominal","scale":{"type":"band","domain":["g1d1","g1d2","g1d3","s1","g2d1","g2d2","g2d3","s2","g3d1","g3d2","g3d3"],"paddingInner":0.22,"paddingOuter":0.55},"axis":{"values":["g1d1","g1d2","g1d3","g2d1","g2d2","g2d3","g3d1","g3d2","g3d3"],"labelExpr":"slice(datum.value,2)=='d1'?'0.100 µg':slice(datum.value,2)=='d2'?'0.010 µg':'0.001 µg'","title":"Dose sa-mRNA"}},
"y":{"field":"m","type":"quantitative","scale":{"domain":[0,4],"nice":false},"axis":{"values":[0,1,2,3,4],"title":"log10 NAI titer (GMT)"}}}},
{"data":{"name":"bars"},"transform":[{"filter":"datum.p=='b4' && datum.g=='g2'"}],"mark":{"type":"bar","fill":"#7D5CA8","stroke":"#4A0C8A","strokeWidth":1.5},
"encoding":{"x":{"field":"bar","type":"nominal"},"y":{"field":"m","type":"quantitative"}}},
{"data":{"name":"bars"},"transform":[{"filter":"datum.p=='b4' && datum.g=='g3'"}],"mark":{"type":"bar","fill":"#4A0C8A"},
"encoding":{"x":{"field":"bar","type":"nominal"},"y":{"field":"m","type":"quantitative"}}},
{"data":{"name":"bars"},"transform":[{"filter":"datum.p=='b4'"},{"flatten":["v"]},{"window":[{"op":"row_number","as":"k"}],"groupby":["bar"]}],"mark":{"type":"circle","fill":"#B48CF2","size":9,"opacity":1},
"encoding":{"x":{"field":"bar","type":"nominal"},"xOffset":{"field":"k","type":"ordinal","scale":{"paddingOuter":1}},"y":{"field":"v","type":"quantitative"}}},
{"data":{"values":[{"lod":1.5}]},"mark":{"type":"rule","strokeDash":[2,2.5],"stroke":"black","strokeWidth":1.5},"encoding":{"y":{"field":"lod","type":"quantitative"}}},
{"data":{"name":"br"},"transform":[{"filter":"datum.p=='b4'"}],"layer":[
{"mark":{"type":"rule","stroke":"black","strokeWidth":1.5},"encoding":{"x":{"field":"bar","type":"nominal"},"x2":{"field":"b"},"y":{"field":"y","type":"quantitative"}}},
{"mark":{"type":"rule","stroke":"black","strokeWidth":1.5},"encoding":{"x":{"field":"bar","type":"nominal"},"y":{"field":"y","type":"quantitative"},"y2":{"field":"ya"}}},
{"mark":{"type":"rule","stroke":"black","strokeWidth":1.5},"encoding":{"x":{"field":"b","type":"nominal"},"y":{"field":"y","type":"quantitative"},"y2":{"field":"yb"}}},
{"mark":{"type":"text","baseline":"alphabetic","dy":-2,"fontSize":12},"encoding":{"x":{"field":"mid","type":"nominal"},"y":{"field":"y","type":"quantitative"},"text":{"field":"s"}}}]},
{"data":{"values":[{"grp":"qNA"},{"grp":"qHA+qNA"},{"grp":"qHA-NA"}]},"mark":{"type":"point","clip":true,"filled":true,"shape":"M-1,-0.5H1V0.5H-1Z","stroke":"black","strokeWidth":2},
"encoding":{"y":{"datum":-5},"fill":{"field":"grp","type":"nominal","scale":{"domain":["qNA","qHA+qNA","qHA-NA"],"range":["white","#808080","black"]},
"legend":{"title":null,"orient":"none","legendX":658,"legendY":-1,"symbolType":"M-1,-0.5H1V0.5H-1Z","symbolSize":220,"symbolStrokeColor":"black","symbolStrokeWidth":2,"labelFontSize":13,"labelColor":"black","labelOffset":6,"rowPadding":4,"padding":0}}}}
]}
]}
]}
